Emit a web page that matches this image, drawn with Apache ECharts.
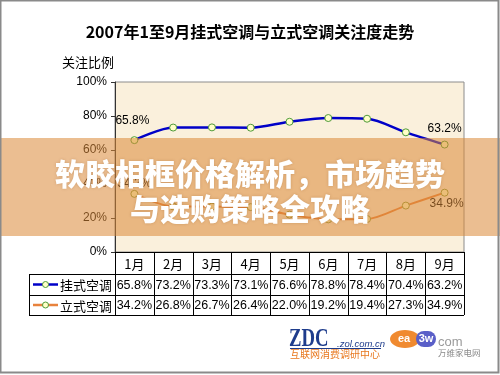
<!DOCTYPE html>
<html><head><meta charset="utf-8">
<script src="https://cdn.jsdelivr.net/npm/echarts@6/dist/echarts.min.js"></script>
<style>html,body{margin:0;padding:0;background:#fff}#c{width:500px;height:375px}</style>
</head><body><div id="c"></div>
<script>
const titleText = '2007年1至9月挂式空调与立式空调关注度走势';
const yAxisName = '关注比例';
const months = ['1月','2月','3月','4月','5月','6月','7月','8月','9月'];
const seriesNames = ['挂式空调','立式空调'];
const wallValues = [65.8,73.2,73.3,73.1,76.6,78.8,78.4,70.4,63.2];
const floorValues = [34.2,26.8,26.7,26.4,22.0,19.2,19.4,27.3,34.9];
const bannerLines = ['软胶相框价格解析，市场趋势','与选购策略全攻略'];

const G = {left:115, top:82, width:349, height:170};
const colors = ['#0000C8','#E8823C'];
const font = '"Liberation Sans", Arial, sans-serif';
const cjk = '"Noto Sans CJK SC", sans-serif';

function fmt(v){ return v.toFixed(1) + '%'; }
function mkData(vals, first, last){
  return vals.map((v,i)=>{
    if(i===0) return {value:v, label:Object.assign({show:true}, first)};
    if(i===vals.length-1) return {value:v, label:Object.assign({show:true}, last)};
    return v;
  });
}
const chart = echarts.init(document.getElementById('c'), null, {renderer:'canvas'});
const lblBase = {formatter:p=>fmt(p.value), color:'#000', fontSize:12, fontFamily:font};
chart.setOption({
  animation:false,
  backgroundColor:'#fff',
  grid:{left:G.left, top:G.top, width:G.width, height:G.height, show:true,
        backgroundColor:'#FAF0DC', borderColor:'#8C8C8C', borderWidth:1},
  xAxis:{type:'category', data:months, boundaryGap:true,
         axisLine:{show:true, lineStyle:{color:'#000'}}, axisTick:{show:false}, axisLabel:{show:false}},
  yAxis:{type:'value', min:0, max:100, interval:20,
         axisLine:{show:true, lineStyle:{color:'#333'}}, axisTick:{show:true, length:4, lineStyle:{color:'#333'}},
         splitLine:{show:false},
         axisLabel:{formatter:'{value}%', color:'#000', fontSize:12, fontFamily:font, margin:8}},
  series:[
    {name:seriesNames[0], type:'line', smooth:0.3, symbol:'circle', symbolSize:7,
     data:mkData(wallValues, Object.assign({}, lblBase, {position:'top', distance:9, offset:[-2,0]}),
                             Object.assign({}, lblBase, {position:'top', distance:6})),
     lineStyle:{color:colors[0], width:2.5},
     itemStyle:{color:'#FFFFC8', borderColor:'#4E9A3A', borderWidth:1}, z:3},
    {name:seriesNames[1], type:'line', smooth:0.3, symbol:'circle', symbolSize:7,
     data:mkData(floorValues, Object.assign({}, lblBase, {position:'top', distance:0, offset:[0,0]}),
                              Object.assign({}, lblBase, {position:'bottom', distance:1, offset:[2,0]})),
     lineStyle:{color:colors[1], width:2},
     itemStyle:{color:'#FFFFC8', borderColor:'#8A9A3A', borderWidth:1}, z:3}
  ]
});

const bw = G.width / months.length;
const gx = [];
months.forEach((m,i)=>{ gx.push(chart.convertToPixel({xAxisIndex:0}, m)); });
const rowsY = [252, 274, 295, 315];
const legendLeft = 29;
const els = [];
els.push({type:'rect', shape:{x:0.5,y:0.5,width:498,height:372}, style:{fill:null, stroke:'#8a8a8a', lineWidth:2}, z:200});
els.push({type:'text', x:250, y:32, style:{text:titleText, font:'bold 16px '+cjk, fill:'#000', align:'center', verticalAlign:'middle'}});
els.push({type:'text', x:62, y:62, style:{text:yAxisName, font:'13px '+cjk, fill:'#000', align:'left', verticalAlign:'middle'}});
const line = (x1,y1,x2,y2)=>({type:'line', shape:{x1,y1,x2,y2}, style:{stroke:'#000', lineWidth:1}, z:10});
const right = G.left + G.width;
els.push(line(G.left, rowsY[0]+0.5, right, rowsY[0]+0.5));
for(let r=1;r<rowsY.length;r++) els.push(line(legendLeft, rowsY[r]+0.5, right, rowsY[r]+0.5));
els.push(line(legendLeft+0.5, rowsY[1], legendLeft+0.5, rowsY[3]));
for(let c=0;c<=months.length;c++){
  const x = Math.round(G.left + c*bw)+0.5;
  els.push(line(x, rowsY[0], x, rowsY[3]));
}
months.forEach((m,i)=>{
  els.push({type:'text', x:gx[i], y:(rowsY[0]+rowsY[1])/2+1, style:{text:m, font:'13px '+cjk, fill:'#000', align:'center', verticalAlign:'middle'}, z:11});
});
[wallValues, floorValues].forEach((vals,r)=>{
  const cy = (rowsY[r+1]+rowsY[r+2])/2;
  vals.forEach((v,i)=>{
    els.push({type:'text', x:gx[i], y:cy+1, style:{text:fmt(v), font:'12.5px '+font, fill:'#000', align:'center', verticalAlign:'middle'}, z:11});
  });
  els.push({type:'line', shape:{x1:33,y1:cy,x2:58,y2:cy}, style:{stroke:colors[r], lineWidth:2.5}, z:11});
  els.push({type:'circle', shape:{cx:45.5,cy:cy,r:3}, style:{fill:'#FFFFC8', stroke:'#4E9A3A', lineWidth:1}, z:12});
  els.push({type:'text', x:60, y:cy+1, style:{text:seriesNames[r], font:'13px '+cjk, fill:'#000', align:'left', verticalAlign:'middle'}, z:11});
});
els.push({type:'text', x:289, y:339, scaleX:0.72, style:{text:'ZDC', font:'bold 26px "Liberation Serif", serif', fill:'#1E3C8C', align:'left', verticalAlign:'middle'}});
els.push({type:'text', x:337, y:344, style:{text:'.zol.com.cn', font:'italic 9.5px '+font, fill:'#1E3C8C', align:'left', verticalAlign:'middle'}});
els.push({type:'line', shape:{x1:290,y1:348.5,x2:381,y2:348.5}, style:{stroke:'#1E3C8C', lineWidth:1}});
els.push({type:'text', x:290, y:354, style:{text:'互联网消费调研中心', font:'10px '+cjk, fill:'#E8781E', align:'left', verticalAlign:'middle'}});
els.push({type:'ellipse', shape:{cx:405,cy:339,rx:15,ry:9}, style:{fill:'#F08A30'}});
els.push({type:'text', x:404, y:339, style:{text:'ea', font:'bold 11px '+font, fill:'#fff', align:'center', verticalAlign:'middle'}});
els.push({type:'rect', shape:{x:416,y:331,width:20,height:16,r:8}, style:{fill:'#5A5FC8'}});
els.push({type:'text', x:426, y:339, style:{text:'3w', font:'bold 11px '+font, fill:'#fff', align:'center', verticalAlign:'middle'}});
els.push({type:'text', x:438, y:342, style:{text:'com', font:'13px '+font, fill:'#9A9A9A', align:'left', verticalAlign:'middle'}});
els.push({type:'text', x:438, y:353, style:{text:'万维家电网', font:'8.5px '+cjk, fill:'#8A8A8A', align:'left', verticalAlign:'middle'}});
els.push({type:'rect', shape:{x:0,y:138,width:500,height:98}, style:{fill:'rgba(219,137,55,0.55)'}, z:100});
bannerLines.forEach((t,i)=>{
  els.push({type:'text', x:250, y:174+i*35, style:{text:t, font:'900 30px '+cjk, fill:'#fff', align:'center', verticalAlign:'middle',
    textShadowColor:'rgba(120,60,10,0.25)', textShadowBlur:3}, z:101});
});
chart.setOption({graphic:{elements:els}});
</script>
</body></html>
